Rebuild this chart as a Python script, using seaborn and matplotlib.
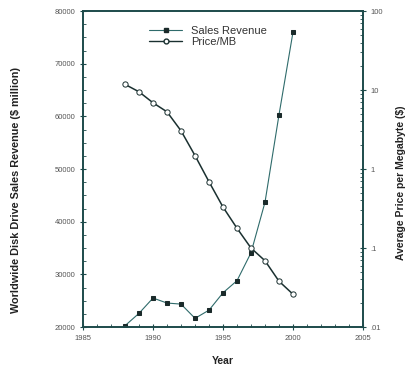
import matplotlib
matplotlib.use("Agg")
import matplotlib.pyplot as plt
import matplotlib.ticker as mticker
import seaborn as sns
import pandas as pd
from matplotlib.lines import Line2D

sns.set_theme(style="white")
plt.rcParams['font.family'] = ['Liberation Sans', 'DejaVu Sans']

years = [1988, 1989, 1990, 1991, 1992, 1993, 1994, 1995, 1996, 1997, 1998, 1999, 2000]
sales_revenue = [20250, 22600, 25500, 24550, 24350, 21650, 23200, 26500, 28800, 34100, 43700, 60300, 76000]
price_per_mb = [11.8, 9.5, 6.9, 5.3, 3.05, 1.48, 0.69, 0.33, 0.178, 0.10, 0.069, 0.038, 0.026]
right_ticks = [100, 10, 1, 0.1, 0.01]
right_tick_labels = ["100", "10", "1", ".1", ".01"]

df = pd.DataFrame({"Year": years, "Sales": sales_revenue, "Price": price_per_mb})

axcol = "#1d4a4a"
fig = plt.figure(figsize=(4.09, 3.69), dpi=100)
ax = fig.add_axes([0.203, 0.1138, 0.6845, 0.8562])
ax2 = ax.twinx()

sns.lineplot(data=df, x="Year", y="Sales", ax=ax, color="#2f6b6b", lw=0.8,
             marker="s", markersize=2.6, markerfacecolor="#1a2a2a",
             markeredgecolor="#1a2a2a")
sns.lineplot(data=df, x="Year", y="Price", ax=ax2, color="#1a3030", lw=1.1,
             marker="o", markersize=3.8, markerfacecolor="white",
             markeredgecolor="#1a3030", markeredgewidth=0.7)

ax.set_xlim(1985, 2005)
ax.set_ylim(20000, 80000)
ax2.set_yscale("log")
ax2.set_ylim(0.01, 100)

ax.xaxis.set_major_locator(mticker.MultipleLocator(5))
ax.xaxis.set_minor_locator(mticker.MultipleLocator(1))
ax.yaxis.set_major_locator(mticker.MultipleLocator(10000))
ax.yaxis.set_minor_locator(mticker.MultipleLocator(2500))
ax.yaxis.set_major_formatter(mticker.FormatStrFormatter("%d"))
ax2.yaxis.set_major_locator(mticker.FixedLocator(right_ticks))
ax2.yaxis.set_major_formatter(mticker.FixedFormatter(right_tick_labels))
ax2.yaxis.set_minor_locator(mticker.LogLocator(base=10, subs=range(2, 10)))
ax2.yaxis.set_minor_formatter(mticker.NullFormatter())

for a in (ax, ax2):
    a.tick_params(which="major", direction="inout", length=4, width=0.8,
                  colors=axcol, labelsize=5.5, labelcolor="#555555")
    a.tick_params(which="minor", direction="in", length=2, width=0.6, colors=axcol)
    for s in a.spines.values():
        s.set_color(axcol)
        s.set_linewidth(1.2)
ax.tick_params(axis="y", which="both", left=True, right=False)
ax.tick_params(axis="x", which="both", bottom=True, top=False)
ax2.tick_params(axis="y", which="both", right=True, left=False)

ax.set_xlabel("Year", fontsize=7.5, fontweight="bold", color="#222222", labelpad=10)
ax.set_ylabel("Worldwide Disk Drive Sales Revenue ($ million)", fontsize=7.8,
              fontweight="bold", color="#222222")
ax.yaxis.set_label_coords(-0.221, 0.434)
ax2.set_ylabel("Average Price per Megabyte ($)", fontsize=7.5, fontweight="bold",
               color="#222222")
ax2.yaxis.set_label_coords(1.118, 0.456)

handles = [
    Line2D([], [], color="#2f6b6b", lw=0.8, marker="s", markersize=2.6,
           markerfacecolor="#1a2a2a", markeredgecolor="#1a2a2a"),
    Line2D([], [], color="#1a3030", lw=1.0, marker="o", markersize=3.5,
           markerfacecolor="white", markeredgecolor="#1a3030"),
]
ax.legend(handles, ["Sales Revenue", "Price/MB"], loc="upper left",
          bbox_to_anchor=(0.2, 0.985), frameon=False, fontsize=8,
          handlelength=3.0, labelspacing=0.1, handletextpad=0.8,
          labelcolor="#333333")

fig.savefig("out.png", dpi=100)
